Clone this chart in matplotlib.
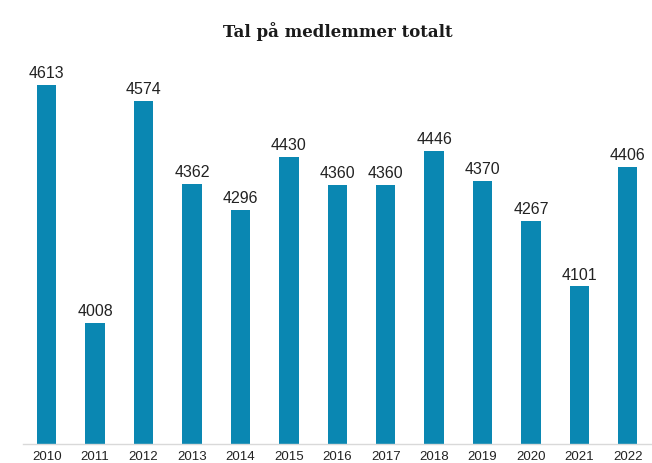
import matplotlib as mpl
import matplotlib.pyplot as plt
import numpy as np

mpl.rcParams["font.family"] = ["DejaVu Sans"]

years = ["2010", "2011", "2012", "2013", "2014", "2015", "2016",
         "2017", "2018", "2019", "2020", "2021", "2022"]
members = [4613, 4008, 4574, 4362, 4296, 4430, 4360,
           4360, 4446, 4370, 4267, 4101, 4406]

W, H = 652, 463
fig = plt.figure(figsize=(W / 100, H / 100), dpi=100)

# axes placed in pixel terms: baseline at y=444, left edge x=22.5
ax = fig.add_axes([22.5 / W, (H - 444) / H, (W - 22.5) / W, 384 / H])

x = np.arange(len(years))
ax.bar(x, members, width=0.4, color="#0a87b2", zorder=2)

for xi, v in zip(x, members):
    ax.annotate(str(v), (xi, v), xytext=(0, 5), textcoords="offset points",
                ha="center", va="baseline", fontsize=11.5, color="#222222",
                family="Liberation Sans")

ax.set_xlim(-0.5, 12.5)
ax.set_ylim(3700, 3700 + 384 / 0.3929)
ax.set_xticks(x)
ax.set_xticklabels(years, fontsize=9.5, color="#222222", family="Liberation Sans")
ax.tick_params(axis="x", length=0, pad=5)
ax.set_yticks([])
for s in ["top", "right", "left"]:
    ax.spines[s].set_visible(False)
ax.spines["bottom"].set_color("#d9d9d9")
ax.spines["bottom"].set_linewidth(1)

fig.text(338 / W, 1 - 36.7 / H, "Tal på medlemmer totalt", ha="center",
         va="baseline", fontsize=12, fontweight="bold", family="DejaVu Serif",
         color="#1a1a1a")

fig.savefig("out.png", dpi=100)
